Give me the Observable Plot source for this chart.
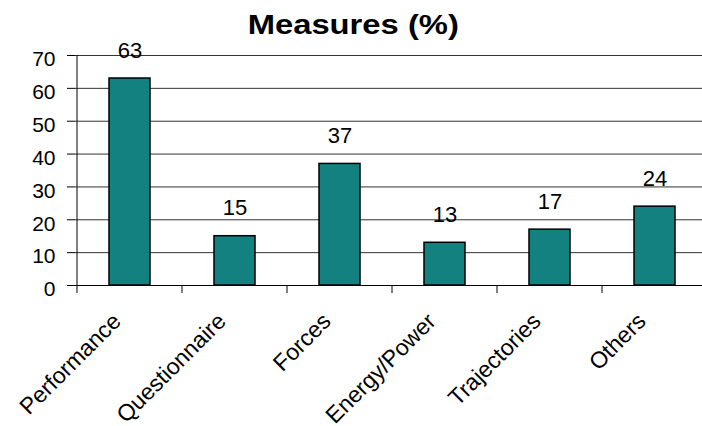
<!DOCTYPE html>
<html>
<head>
<meta charset="utf-8">
<script src="https://cdn.jsdelivr.net/npm/d3@7"></script>
<script src="https://cdn.jsdelivr.net/npm/@observablehq/plot@0.6"></script>
<style>
  body { margin: 0; background: #fff; font-family: Arial, "Liberation Sans", sans-serif; }
  #title { position: relative; z-index: 2; width: 702px; height: 25px; overflow: visible; box-sizing: border-box;
           padding-top: 11px; padding-left: 4px; text-align: center; color: #000; }
  #title span { display: inline-block; font: bold 28px/28px Arial, "Liberation Sans", sans-serif;
                transform: scaleX(1.17); transform-origin: center; }
  #chart { position: relative; z-index: 1; }
</style>
</head>
<body>
<div id="title"><span>Measures (%)</span></div>
<div id="chart"></div>
<script>
const categories = ["Performance", "Questionnaire", "Forces", "Energy/Power", "Trajectories", "Others"];
const values = [63, 15, 37, 13, 17, 24];
const yTicks = [0, 10, 20, 30, 40, 50, 60, 70];

const data = categories.map((c, i) => ({cat: c, val: values[i]}));
const teal = "#128180";

const frameMarks = (index, scales) => {
  const {x, y} = scales;
  const g = d3.create("svg:g").attr("stroke", "black").attr("stroke-width", 1);
  const bw = typeof x.bandwidth === "function" ? x.bandwidth() : x.bandwidth;
  const y0 = y(0), yTop = y(d3.max(yTicks));
  const xs = categories.map(c => x(c));
  xs.push(x(categories[categories.length - 1]) + bw);
  // y axis line
  g.append("line").attr("x1", xs[0]).attr("x2", xs[0]).attr("y1", yTop).attr("y2", y0);
  // x ticks at band boundaries
  for (const px of xs) {
    g.append("line").attr("x1", px).attr("x2", px).attr("y1", y0).attr("y2", y0 + 8);
  }
  return g.node();
};

const chart = Plot.plot({
  width: 702,
  height: 401,
  marginTop: 30,
  marginBottom: 141,
  marginLeft: 75,
  marginRight: -7,
  style: {fontFamily: "Arial, 'Liberation Sans', sans-serif", color: "#000", background: "transparent"},
  x: {domain: categories, padding: 0},
  y: {domain: [0, 70]},
  marks: [
    Plot.ruleY(yTicks.filter(d => d > 0), {stroke: "#333", strokeWidth: 1}),
    Plot.ruleY([0], {stroke: "#000", strokeWidth: 1}),
    Plot.barY(data, {x: "cat", y: "val", fill: teal, stroke: "#000", strokeWidth: 1.5, insetLeft: 32, insetRight: 32}),
    Plot.text(data, {x: "cat", y: "val", text: d => String(d.val), dy: -28, fontSize: 22, fill: "#000"}),
    Plot.axisY({ticks: yTicks, tickSize: 8, tickFormat: () => "", label: null}),
    Plot.axisY({ticks: yTicks, tickSize: 0, tickPadding: 20, dy: 4, fontSize: 21, tickFormat: d => String(d), label: null}),
    Plot.axisX({tickSize: 0, tickRotate: -45, tickPadding: 32, dx: -13, fontSize: 23, label: null}),
    frameMarks
  ]
});
document.getElementById("chart").appendChild(chart);
</script>
</body>
</html>
